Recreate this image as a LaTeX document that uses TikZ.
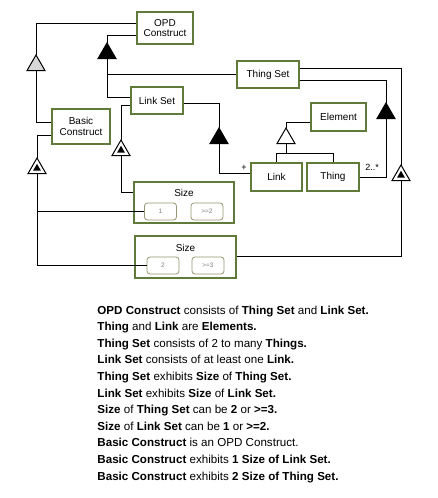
\documentclass[tikz,border=0pt]{standalone}
\usepackage{fontspec}
\setmainfont{Liberation Sans}
\usetikzlibrary{shapes.geometric}
\definecolor{opdgreen}{RGB}{96,122,58}
\definecolor{stategray}{RGB}{150,150,115}
\definecolor{trigray}{RGB}{215,215,215}

\begin{document}
\begin{tikzpicture}[x=1pt,y=-1pt,line width=0.9pt,
	obj/.style={draw=opdgreen,line width=1.1pt,fill=white,inner sep=0pt,align=center,font=\fontsize{10}{10.5}\selectfont},
	state/.style={draw=stategray,rounded corners=3pt,line width=0.8pt,minimum width=32,minimum height=17,inner sep=0pt,font=\fontsize{6.5}{7}\selectfont,text=gray},
	tri/.style={regular polygon,regular polygon sides=3,minimum size=20.8,inner sep=0pt,outer sep=0pt,draw,line width=1pt},
	inner/.style={regular polygon,regular polygon sides=3,minimum size=9.2,inner sep=0pt,outer sep=0pt,fill=black},
	stmt/.style={anchor=base west,inner sep=0pt,font=\fontsize{11.6}{14}\selectfont}]
		\useasboundingbox (0,0) rectangle (438,498);
		% things
		\node[obj,minimum width=56,minimum height=32] (opd) at (165,28) {OPD\\Construct};
		\node[obj,minimum width=62,minimum height=27] (thingset) at (268,74.5) {Thing Set};
		\node[obj,minimum width=52,minimum height=27] (linkset) at (157,100.5) {Link Set};
		\node[obj,minimum width=58,minimum height=35] (basic) at (81,126.5) {Basic\\Construct};
		\node[obj,minimum width=55,minimum height=28] (element) at (338.5,117) {Element};
		\node[obj,minimum width=51,minimum height=28] (link) at (276.5,177) {Link};
		\node[obj,minimum width=52,minimum height=28] (thing) at (333,177) {Thing};
		% size attributes and their states
		\node[obj,minimum width=100,minimum height=41] (size1) at (184,202.5) {};
		\node[font=\fontsize{10}{10}\selectfont] (size1t) at (184,192.5) {Size};
		\node[state] (st1) at (160.5,211.5) {1};
		\node[state] (st2) at (207,211.5) {>=2};
		\node[obj,minimum width=101,minimum height=42] (size2) at (185.5,257) {};
		\node[font=\fontsize{10}{10}\selectfont] (size2t) at (185.5,247.5) {Size};
		\node[state] (st3) at (163,265.5) {2};
		\node[state] (st4) at (208,265.5) {>=3};
		% link symbols
		\node[tri,fill=trigray] (g1) at (36,65.4) {};
		\node[tri,fill=black] (a1) at (107,53.4) {};
		\node[tri,fill=white] (e1) at (121,150.4) {};
		\node[inner] (e1i) at (e1.center) {};
		\node[tri,fill=white] (e2) at (37,168.4) {};
		\node[inner] (e2i) at (e2.center) {};
		\node[tri,fill=white] (e3) at (401,175.4) {};
		\node[inner] (e3i) at (e3.center) {};
		\node[tri,fill=black] (a2) at (386,113.4) {};
		\node[tri,fill=black] (a3) at (219,138.4) {};
		\node[tri,fill=white] (g2) at (286,138.4) {};
		% links
		\draw ([yshift=5pt]opd.west) -| (g1.corner 1);
		\draw (g1.side 2) |- ([yshift=4.5pt]basic.west);
		\draw ([yshift=-7pt]opd.west) -| (a1.corner 1);
		\draw (a1.side 2) |- ([yshift=3.5pt]linkset.west);
		\draw (a1.side 2) |- (thingset.west);
		\draw ([yshift=-4.5pt]linkset.west) -| (e1.corner 1);
		\draw (e1.side 2) |- ([yshift=10.5pt]size1.west);
		\draw ([yshift=-8.5pt]basic.west) -| (e2.corner 1);
		\draw (e2.side 2) |- (st1.west);
		\draw (e2.side 2) |- (st3.west);
		\draw ([yshift=6.5pt]thingset.east) -| (e3.corner 1);
		\draw (e3.side 2) |- ([yshift=1pt]size2.east);
		\draw ([yshift=-5.5pt]thingset.east) -| (a2.corner 1);
		\draw (a2.side 2) |- (thing.east);
		\draw ([yshift=-2.5pt]linkset.east) -| (a3.corner 1);
		\draw (a3.side 2) |- ([yshift=4pt]link.west);
		\draw ([yshift=-5pt]element.west) -| (g2.corner 1);
		\draw (g2.side 2) -- ++(0,10) coordinate (gj);
		\draw (gj) -| (link.north);
		\draw (gj) -| (thing.north);
		\node[font=\fontsize{9}{9}\selectfont] (plus) at (244,167.5) {+};
		\node[font=\fontsize{9}{9}\selectfont] (mult) at (372,167) {2..*};
		% OPL sentences
		\foreach \txt [count=\i] in {
			{\textbf{OPD Construct} consists of \textbf{Thing Set} and \textbf{Link Set.}},
			{\textbf{Thing} and \textbf{Link} are \textbf{Elements.}},
			{\textbf{Thing Set} consists of 2 to many \textbf{Things.}},
			{\textbf{Link Set} consists of at least one \textbf{Link.}},
			{\textbf{Thing Set} exhibits \textbf{Size} of \textbf{Thing Set.}},
			{\textbf{Link Set} exhibits \textbf{Size} of \textbf{Link Set.}},
			{\textbf{Size} of \textbf{Thing Set} can be \textbf{2} or \textbf{>=3.}},
			{\textbf{Size} of \textbf{Link Set} can be \textbf{1} or \textbf{>=2.}},
			{\textbf{Basic Construct} is an OPD Construct.},
			{\textbf{Basic Construct} exhibits \textbf{1 Size of Link Set.}},
			{\textbf{Basic Construct} exhibits \textbf{2 Size of Thing Set.}}}
			\node[stmt] (s\i) at (97,{314+16.6*(\i-1)}) {\txt};
\end{tikzpicture}
\end{document}
